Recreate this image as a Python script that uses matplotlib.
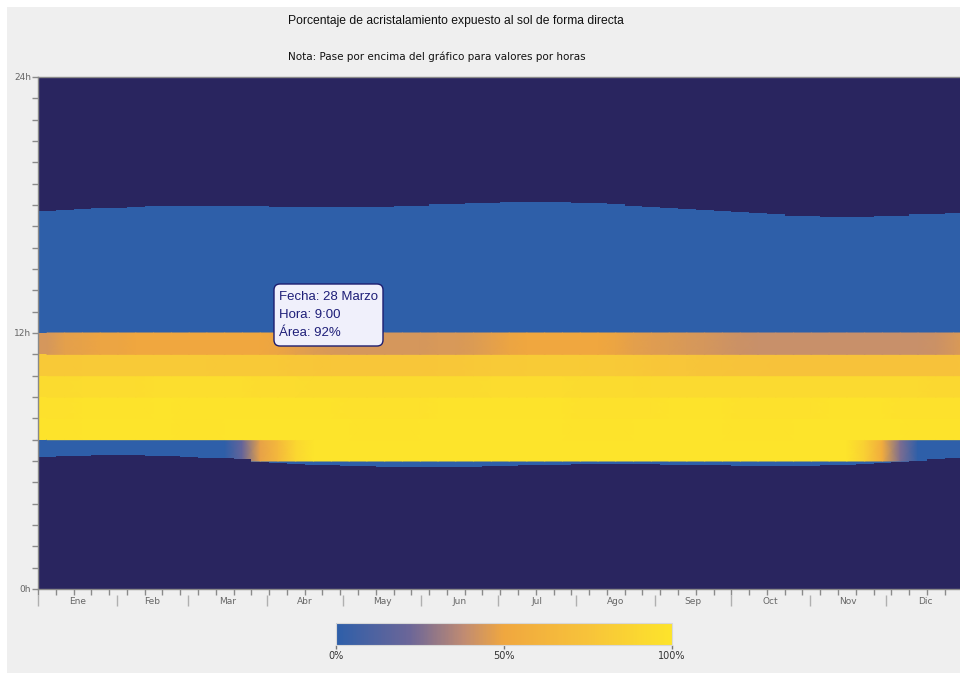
import numpy as np
import matplotlib
matplotlib.use('Agg')
import matplotlib.pyplot as plt
from matplotlib.colors import LinearSegmentedColormap
from matplotlib.patches import Rectangle, FancyBboxPatch

# ---------------- data ----------------
months = ['Ene', 'Feb', 'Mar', 'Abr', 'May', 'Jun', 'Jul', 'Ago', 'Sep', 'Oct', 'Nov', 'Dic']
month_start = [0, 31, 59, 90, 120, 151, 181, 212, 243, 273, 304, 334, 365]
week_edges = list(range(0, 365, 7)) + [365]   # 53 weekly columns

sunrise = [6.19, 6.23, 6.23, 6.28, 6.28, 6.28, 6.23, 6.23, 6.19, 6.13, 6.13, 6.08, 5.97,
           5.92, 5.87, 5.81, 5.81, 5.77, 5.77, 5.72, 5.72, 5.72, 5.72, 5.72, 5.72, 5.77,
           5.77, 5.81, 5.81, 5.81, 5.86, 5.86, 5.86, 5.86, 5.86, 5.81, 5.81, 5.81, 5.81,
           5.77, 5.77, 5.77, 5.77, 5.77, 5.81, 5.81, 5.86, 5.92, 5.97, 6.01, 6.08, 6.13, 6.13]
sunset = [17.72, 17.77, 17.81, 17.86, 17.86, 17.92, 17.97, 17.97, 17.97, 17.97, 17.97, 17.97, 17.97,
          17.92, 17.92, 17.92, 17.92, 17.92, 17.92, 17.92, 17.97, 17.97, 18.03, 18.03, 18.08, 18.08,
          18.14, 18.14, 18.14, 18.14, 18.09, 18.09, 18.03, 17.97, 17.92, 17.86, 17.81, 17.77, 17.71,
          17.66, 17.61, 17.56, 17.50, 17.50, 17.45, 17.45, 17.45, 17.50, 17.50, 17.56, 17.56, 17.61, 17.67]

# hourly rows (% of glazing exposed), one value per week
row_06h = [0, 0, 0, 0, 0, 0, 0, 0, 0, 0, 0, 20, 48,
           66, 90, 100, 100, 100, 100, 100, 100, 100, 100, 100, 100, 100,
           100, 100, 100, 100, 100, 100, 100, 100, 100, 100, 100, 100, 100,
           100, 100, 100, 100, 100, 100, 100, 85, 55, 25, 0, 0, 0, 0]
row_07h = [99, 99, 100, 100, 100, 100, 100, 100, 99, 99, 100, 100, 100,
           100, 100, 100, 100, 100, 99, 99, 99, 100, 100, 100, 100, 100,
           100, 100, 100, 100, 99, 99, 99, 100, 100, 100, 100, 100, 100,
           99, 99, 99, 100, 100, 100, 100, 100, 100, 100, 99, 99, 99, 99]
row_08h = [98, 98, 99, 99, 99, 99, 100, 100, 99, 99, 99, 99, 99,
           99, 99, 99, 99, 98, 98, 98, 98, 98, 99, 99, 99, 99,
           99, 99, 99, 99, 98, 98, 98, 98, 98, 99, 99, 99, 99,
           98, 98, 98, 98, 98, 99, 99, 99, 99, 98, 98, 98, 98, 98]
row_09h = [93, 93, 94, 94, 94, 94, 95, 95, 95, 95, 95, 95, 94,
           94, 94, 93, 93, 93, 93, 93, 93, 93, 93, 93, 93, 94,
           94, 94, 94, 94, 93, 93, 93, 93, 92, 92, 92, 92, 92,
           92, 92, 92, 92, 92, 92, 92, 92, 92, 92, 92, 91, 91, 91]
row_10h = [79, 79, 80, 80, 80, 80, 80, 80, 80, 80, 79, 79, 79,
           79, 78, 78, 77, 77, 77, 77, 77, 77, 78, 78, 79, 80,
           80, 81, 81, 81, 81, 80, 80, 79, 78, 77, 77, 76, 76,
           75, 75, 74, 74, 74, 74, 74, 74, 74, 74, 74, 74, 74, 75]
row_11h = [43, 47, 48, 49, 49, 50, 50, 50, 50, 50, 50, 50, 50,
           49, 47, 45, 44, 43, 43, 43, 43, 43, 44, 44, 45, 47,
           49, 50, 50, 50, 50, 50, 49, 47, 46, 45, 44, 43, 42,
           41, 40, 40, 40, 40, 40, 40, 40, 40, 40, 40, 41, 43, 45]

hour_rows = {6: row_06h, 7: row_07h, 8: row_08h, 9: row_09h, 10: row_10h, 11: row_11h}

# ---------------- figure ----------------
W, H = 960, 673
fig = plt.figure(figsize=(W / 100, H / 100), dpi=100)
fig.patch.set_facecolor('white')
fig.patches.append(Rectangle((7 / W, 0), 953 / W, 666 / H, transform=fig.transFigure,
                             facecolor='#efefef', edgecolor='none', zorder=-10))

navy = '#29255f'
cmap = LinearSegmentedColormap.from_list('sol', [
    (0.0, '#2e5fa9'), (0.22, '#6c6698'), (0.38, '#c08b72'), (0.5, '#f0a73f'),
    (0.75, '#f7c33a'), (1.0, '#fde42b')])

ax = fig.add_axes([38 / W, 1 - 589 / H, (965 - 38) / W, 512 / H])
C = np.zeros((24, len(week_edges) - 1))
for h, vals in hour_rows.items():
    C[h, :] = vals
ax.pcolormesh(week_edges, np.arange(25), C, cmap=cmap, vmin=0, vmax=100,
              shading='flat', edgecolors='none', antialiased=False, zorder=1)

# soft horizontal blending inside each hourly band (as in the source chart)
edges = np.array(week_edges, dtype=float)
centers = (edges[:-1] + edges[1:]) / 2
for h, vals in hour_rows.items():
    v = np.array(vals, dtype=float)
    ax.pcolormesh(centers, [h, h + 1], np.vstack([v, v]), cmap=cmap, vmin=0, vmax=100,
                  shading='gouraud', zorder=2)

sr = sunrise + [sunrise[-1]]
ss = sunset + [sunset[-1]]
ax.fill_between(week_edges, 0, sr, step='post', color=navy, linewidth=0, zorder=3)
ax.fill_between(week_edges, ss, 24, step='post', color=navy, linewidth=0, zorder=3)

ax.set_xlim(0, 365)
ax.set_ylim(0, 24)
ax.spines['right'].set_visible(False)
for s in ['left', 'bottom', 'top']:
    ax.spines[s].set_color('#8a8a8a')
    ax.spines[s].set_linewidth(1.0)
    ax.spines[s].set_zorder(5)

ax.set_yticks([0, 12, 24])
ax.set_yticklabels(['0h', '12h', '24h'])
ax.set_yticks(range(25), minor=True)
ax.tick_params(axis='y', which='both', length=4, width=1, color='#8a8a8a',
               labelsize=6.5, labelcolor='#666666', pad=1)
ax.set_xticks(week_edges[:-1])
ax.set_xticklabels([])
ax.tick_params(axis='x', which='major', length=4, width=1, color='#8a8a8a')

xt = ax.get_xaxis_transform()
for i, m in enumerate(months):
    ax.text((month_start[i] + month_start[i + 1]) / 2, -0.024, m, transform=xt,
            ha='center', va='center', fontsize=6.5, color='#666666', family='DejaVu Sans')
ax.vlines(month_start[:-1], -0.012, -0.033, transform=xt, colors='#b0b0b0',
          linewidth=1, clip_on=False)

# titles
fig.text(288 / W, 1 - 21 / H, 'Porcentaje de acristalamiento expuesto al sol de forma directa',
         ha='left', va='center', fontsize=8.7, family='Liberation Sans', color='#111111')
fig.text(288 / W, 1 - 57 / H, 'Nota: Pase por encima del gráfico para valores por horas',
         ha='left', va='center', fontsize=7.5, family='DejaVu Sans', color='#111111')

# colorbar
cax = fig.add_axes([336 / W, 1 - 644.5 / H, 336 / W, 21.3 / H])
sm = plt.cm.ScalarMappable(cmap=cmap, norm=plt.Normalize(0, 100))
cb = fig.colorbar(sm, cax=cax, orientation='horizontal')
cb.set_ticks([0, 50, 100])
cb.set_ticklabels(['0%', '50%', '100%'])
cb.outline.set_edgecolor('#d8d8d8')
cb.outline.set_linewidth(0.8)
cax.tick_params(length=3, width=1, color='#777777', labelsize=7, labelcolor='#333333', pad=2)

# tooltip
tip = FancyBboxPatch((2.74, (H - 346) / 100), 1.09, 0.62,
                     boxstyle='round,pad=0,rounding_size=0.06',
                     transform=fig.dpi_scale_trans, facecolor='#f0f0fb',
                     edgecolor='#1d1d6f', linewidth=1.0, zorder=20)
fig.patches.append(tip)
for txt, yy in [('Fecha: 28 Marzo', 297), ('Hora: 9:00', 315), ('Área: 92%', 333)]:
    fig.text(2.79, (H - yy) / 100, txt, transform=fig.dpi_scale_trans, ha='left', va='center',
             fontsize=9.5, family='Liberation Sans', color='#1e1e78', zorder=21)

fig.savefig('out.png', dpi=100, facecolor=fig.get_facecolor())
